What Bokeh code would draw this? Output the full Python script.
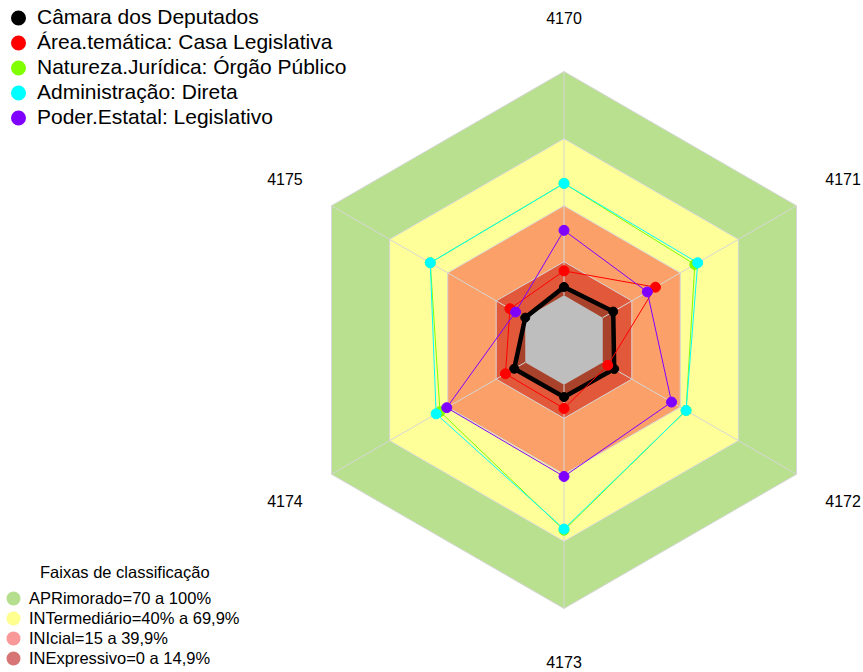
import numpy as np
from bokeh.plotting import figure
from bokeh.models import Range1d, Legend, LegendItem, Label, ColumnDataSource
from bokeh.embed import file_html
from bokeh.resources import INLINE
from bokeh.core.properties import value

# ---------------- data ----------------
axis_labels = ["4170", "4171", "4172", "4173", "4174", "4175"]

series_names = [
    "Câmara dos Deputados",
    "Área.temática: Casa Legislativa",
    "Natureza.Jurídica: Órgão Público",
    "Administração: Direta",
    "Poder.Estatal: Legislativo",
]
camara = [3.7, 5.4, 5.9, 5.5, 5.7, 0.0]
casa_legislativa = [10.9, 27.2, 2.6, 10.6, 10.2, 7.9]
orgao_publico = [50.0, 47.5, 43.0, 65.0, 44.0, 49.0]
adm_direta = [50.0, 49.0, 43.0, 64.5, 46.0, 49.0]
poder_legislativo = [29.0, 23.0, 35.5, 41.0, 40.5, 5.0]
series_values = [camara, casa_legislativa, orgao_publico, adm_direta, poder_legislativo]
series_colors = ["#000000", "#FF0000", "#80FF00", "#00FFFF", "#8000FF"]

band_names = [
    "APRimorado=70 a 100%",
    "INTermediário=40% a 69,9%",
    "INIcial=15 a 39,9%",
    "INExpressivo=0 a 14,9%",
]
band_upper = [100, 70, 40, 15]
band_fill = ["#B8E08F", "#FFFF99", "#FCA06A", "#E2583A"]
band_legend_colors = ["#B5DE8D", "#FFFF8F", "#F89898", "#D77474"]
center_value = 0
legend_title = "Faixas de classificação"

FONT = "Liberation Sans"
W, H = 863, 672

# ---------------- helpers ----------------
n = len(axis_labels)
theta = np.pi / 2 - np.arange(n) * 2 * np.pi / n


def radius(v):
    v = np.asarray(v, dtype=float)
    return (1.0 + 5.0 * v / 100.0) / 6.0


def polar_xy(vals):
    r = radius(vals)
    return list(r * np.cos(theta)), list(r * np.sin(theta))


def ring(v):
    return polar_xy([v] * n)


scale = 268.5
cx, cy = 563.5, 339.5
p = figure(
    width=W, height=H,
    x_range=Range1d(-cx / scale, (W - cx) / scale),
    y_range=Range1d(-(H - cy) / scale, cy / scale),
    x_axis_type=None, y_axis_type=None,
    output_backend="svg", toolbar_location=None,
    min_border=0, outline_line_color=None,
    background_fill_color="white", border_fill_color="white",
)
p.grid.visible = False

# bands
for v, c in zip(band_upper, band_fill):
    xs, ys = ring(v)
    p.patch(xs, ys, fill_color=c, line_color="#D6D6D6", line_width=1)

# filled area of first series (dark overlay)
bx, by = polar_xy(camara)
p.patch(bx, by, fill_color="black", fill_alpha=0.25, line_color=None)

# grey centre
gx, gy = ring(center_value)
p.patch(gx, gy, fill_color="#BEBEBE", line_color=None)

# spokes
r0 = float(radius(center_value))
r1 = float(radius(100))
p.segment(x0=list(r0 * np.cos(theta)), y0=list(r0 * np.sin(theta)),
          x1=list(r1 * np.cos(theta)), y1=list(r1 * np.sin(theta)),
          line_color="#D6D6D6", line_width=1)

# series
legend_items = []
for i, (name, vals, col) in enumerate(zip(series_names, series_values, series_colors)):
    xs, ys = polar_xy(vals)
    lw = 4.5 if i == 0 else 1
    p.line(xs + xs[:1], ys + ys[:1], line_color=col, line_width=lw, line_join="round")
    p.scatter(xs, ys, size=10 if i else 9, fill_color=col, line_color=col, line_width=1)
    dummy = p.scatter([np.nan], [np.nan], size=10, fill_color=col, line_color=col, line_width=7)
    legend_items.append(LegendItem(label=name, renderers=[dummy]))

# axis labels
lr = 1.2
src = ColumnDataSource(dict(x=list(lr * np.cos(theta)), y=list(lr * np.sin(theta)), t=axis_labels))
p.text(x="x", y="y", text="t", source=src, text_align="center", text_baseline="middle",
       text_font=value(FONT), text_font_size="16px", text_color="black")

# legends
top_leg = Legend(items=legend_items, location=(8, 542.5), margin=0, padding=0, spacing=0,
                 glyph_width=20, glyph_height=25, label_height=25, label_standoff=9,
                 label_text_font=FONT, label_text_font_size="21px", label_text_color="black",
                 border_line_color=None, background_fill_alpha=0)
p.add_layout(top_leg)

band_items = []
for name, c in zip(band_names, band_legend_colors):
    dummy = p.scatter([np.nan], [np.nan], size=10, fill_color=c, line_color=c, line_width=6)
    band_items.append(LegendItem(label=name, renderers=[dummy]))
bot_leg = Legend(items=band_items, location=(3, 4), margin=0, padding=0, spacing=0,
                 glyph_width=20, glyph_height=20, label_height=20, label_standoff=6,
                 label_text_font=FONT, label_text_font_size="16.5px", label_text_color="black",
                 border_line_color=None, background_fill_alpha=0)
p.add_layout(bot_leg)

p.add_layout(Label(x=124.3, y=101, x_units="screen", y_units="screen", text=legend_title,
                   text_align="center", text_baseline="middle", text_font=FONT,
                   text_font_size="16.5px", text_color="black"))

open("out.html", "w").write(file_html(p, INLINE))
